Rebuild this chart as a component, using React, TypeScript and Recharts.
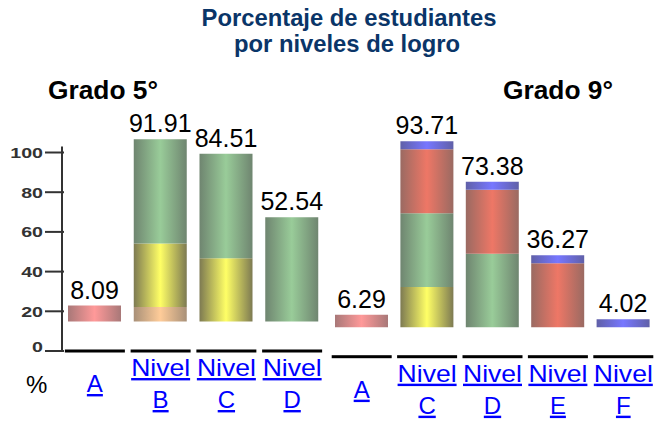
import React from 'react';
import { BarChart, Bar, XAxis, YAxis, LabelList } from 'recharts';

// ---- Data ----
const grade5Categories = ['A', 'Nivel B', 'Nivel C', 'Nivel D'];
const grade5Totals = [8.09, 91.91, 84.51, 52.54];
const grade5Pink = [8.09, 0, 0, 0];
const grade5Peach = [0, 7.4, 0, 0];
const grade5Yellow = [0, 31.97, 31.97, 0];
const grade5Green = [0, 52.54, 52.54, 52.54];

const grade9Categories = ['A', 'Nivel C', 'Nivel D', 'Nivel E', 'Nivel F'];
const grade9Totals = [6.29, 93.71, 73.38, 36.27, 4.02];
const grade9Pink = [6.29, 0, 0, 0, 0];
const grade9Yellow = [0, 20.33, 0, 0, 0];
const grade9Green = [0, 37.11, 37.11, 0, 0];
const grade9Red = [0, 32.25, 32.25, 32.25, 0];
const grade9Blue = [0, 4.02, 4.02, 4.02, 4.02];

const yTicks = [0, 20, 40, 60, 80, 100];
const BASE_OFFSET = 14.8; // bars float above the axis zero in the original

const grade5Keys = ['pink', 'peach', 'yellow', 'green'];
const grade9Keys = ['pink', 'yellow', 'green', 'red', 'blue'];

const grade5Data = grade5Categories.map((name, i) => ({
  name,
  base: BASE_OFFSET,
  pink: grade5Pink[i],
  peach: grade5Peach[i],
  yellow: grade5Yellow[i],
  green: grade5Green[i],
  total: grade5Totals[i],
}));

const grade9Data = grade9Categories.map((name, i) => ({
  name,
  base: BASE_OFFSET,
  pink: grade9Pink[i],
  yellow: grade9Yellow[i],
  green: grade9Green[i],
  red: grade9Red[i],
  blue: grade9Blue[i],
  total: grade9Totals[i],
}));

const FONT = 'Arial, "Liberation Sans", Helvetica, sans-serif';

const gradients: Record<string, [string, string]> = {
  pink: ['#a87878', '#ff9999'],
  peach: ['#a89078', '#ffcc99'],
  yellow: ['#7d7a52', '#ffff66'],
  green: ['#6f8570', '#99cc99'],
  red: ['#9a6a62', '#ee7766'],
  blue: ['#6060a8', '#7777ff'],
};

const Defs = ({ prefix }: { prefix: string }) => (
  <defs>
    {Object.keys(gradients).map((k) => (
      <linearGradient key={k} id={`${prefix}-${k}`} x1="0" y1="0" x2="1" y2="0">
        <stop offset="0" stopColor={gradients[k][0]} />
        <stop offset="0.5" stopColor={gradients[k][1]} />
        <stop offset="1" stopColor={gradients[k][0]} />
      </linearGradient>
    ))}
  </defs>
);

const topKeyOf = (row: any, keys: string[]) => {
  let top = '';
  keys.forEach((k) => {
    if (row[k] > 0) top = k;
  });
  return top;
};

const ValueLabel = (props: any) => {
  const { x, y, width, value } = props;
  if (value == null || value === '') return null;
  return (
    <text
      x={Number(x) + Number(width) / 2}
      y={Number(y) - 7}
      textAnchor="middle"
      fontSize={25}
      fontFamily={FONT}
      fill="#000"
    >
      {value}
    </text>
  );
};

const YTick = (props: any) => {
  const { x, y, payload } = props;
  const v = payload.value;
  const label = String(v);
  return (
    <g>
      <line x1={x - 17} x2={x + 2} y1={y} y2={y} stroke="#333" strokeWidth={2} />
      <text
        x={x - 19}
        y={v === 0 ? y + 0.5 : y + 5.5}
        textAnchor="end"
        fontSize={15}
        fontWeight="bold"
        fontFamily={FONT}
        fill="#333"
        textLength={label.length * 10.9}
        lengthAdjust="spacingAndGlyphs"
      >
        {label}
      </text>
    </g>
  );
};

const XTick = (props: any) => {
  const { x, y, payload } = props;
  const parts = String(payload.value).split(' ');
  const linkStyle = { textDecoration: 'underline' } as React.CSSProperties;
  return (
    <g>
      <rect x={x - 30} y={y - 1.5} width={60} height={3} fill="#000" />
      {parts.length === 1 ? (
        <text x={x} y={y + 41} textAnchor="middle" fontSize={24} fontFamily={FONT} fill="#0000ff" style={linkStyle}>
          {parts[0]}
        </text>
      ) : (
        <>
          <text
            x={x}
            y={y + 25}
            textAnchor="middle"
            fontSize={24}
            fontFamily={FONT}
            fill="#0000ff"
            style={linkStyle}
            textLength={59}
            lengthAdjust="spacingAndGlyphs"
          >
            {parts[0]}
          </text>
          <text x={x} y={y + 57} textAnchor="middle" fontSize={24} fontFamily={FONT} fill="#0000ff" style={linkStyle}>
            {parts[1]}
          </text>
        </>
      )}
    </g>
  );
};

const renderSegments = (keys: string[], prefix: string) =>
  keys.map((k) => (
    <Bar key={k} dataKey={k} stackId="s" fill={`url(#${prefix}-${k})`} isAnimationActive={false}>
      <LabelList
        dataKey={(row: any) => (topKeyOf(row, keys) === k ? row.total : null)}
        content={<ValueLabel />}
      />
    </Bar>
  ));

export default function App() {
  return (
    <div
      style={{
        position: 'absolute',
        left: 0,
        top: 0,
        width: 656,
        height: 422,
        background: '#fff',
        overflow: 'hidden',
        fontFamily: FONT,
      }}
    >
      <svg width={656} height={422} style={{ position: 'absolute', left: 0, top: 0 }}>
        <text x={349} y={26} textAnchor="middle" fontSize={23.8} fontWeight="bold" fill="#0a3568" fontFamily={FONT}>
          Porcentaje de estudiantes
        </text>
        <text x={347} y={52} textAnchor="middle" fontSize={23.8} fontWeight="bold" fill="#0a3568" fontFamily={FONT}>
          por niveles de logro
        </text>
        <text x={48} y={99} fontSize={25} fontWeight="bold" fill="#000" fontFamily={FONT}
          textLength={110} lengthAdjust="spacingAndGlyphs">
          Grado 5°
        </text>
        <text x={503} y={99} fontSize={25} fontWeight="bold" fill="#000" fontFamily={FONT}
          textLength={110} lengthAdjust="spacingAndGlyphs">
          Grado 9°
        </text>
        <text x={26} y={393} fontSize={24} fill="#000" fontFamily={FONT}>
          %
        </text>
      </svg>

      {/* y axis (percent scale) */}
      <div style={{ position: 'absolute', left: 0, top: 0 }}>
        <BarChart
          width={70}
          height={422}
          data={grade5Data}
          margin={{ top: 146.55, right: 6, bottom: 71, left: 0 }}
        >
          <XAxis dataKey="name" hide />
          <YAxis
            domain={[0, 103]}
            ticks={yTicks}
            width={62}
            tickSize={0}
            tickMargin={0}
            tickLine={false}
            interval={0}
            axisLine={{ stroke: '#333', strokeWidth: 2 }}
            tick={<YTick />}
          />
          <Bar dataKey="base" fill="transparent" isAnimationActive={false} />
        </BarChart>
      </div>

      {/* Grado 5 */}
      <div style={{ position: 'absolute', left: 0, top: 0 }}>
        <BarChart
          width={325}
          height={422}
          data={grade5Data}
          margin={{ top: 132.65, right: 0, bottom: 0, left: 62 }}
          barSize={53}
        >
          <Defs prefix="g5" />
          <XAxis
            dataKey="name"
            axisLine={false}
            tickLine={false}
            tickSize={0}
            tickMargin={0}
            height={71}
            interval={0}
            tick={<XTick />}
          />
          <YAxis domain={[0, 110]} hide />
          <Bar dataKey="base" stackId="s" fill="transparent" isAnimationActive={false} />
          {renderSegments(grade5Keys, 'g5')}
        </BarChart>
      </div>

      {/* Grado 9 */}
      <div style={{ position: 'absolute', left: 329, top: 0 }}>
        <BarChart
          width={327}
          height={422}
          data={grade9Data}
          margin={{ top: 138.35, right: 0, bottom: 0, left: 0 }}
          barSize={53}
        >
          <Defs prefix="g9" />
          <XAxis
            dataKey="name"
            axisLine={false}
            tickLine={false}
            tickSize={0}
            tickMargin={0}
            height={65.3}
            interval={0}
            tick={<XTick />}
          />
          <YAxis domain={[0, 110]} hide />
          <Bar dataKey="base" stackId="s" fill="transparent" isAnimationActive={false} />
          {renderSegments(grade9Keys, 'g9')}
        </BarChart>
      </div>
    </div>
  );
}
